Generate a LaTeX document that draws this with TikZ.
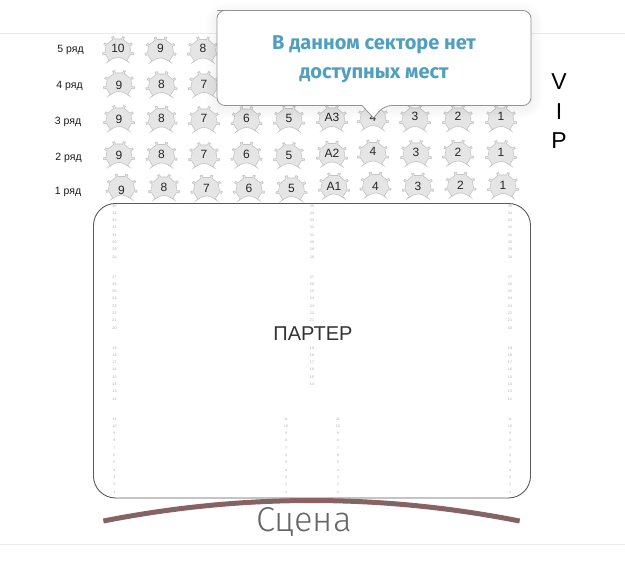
\documentclass[tikz,border=0pt]{standalone}
\usepackage{fontspec}
\setmainfont{Liberation Sans}
\newfontfamily\fira{Fira Sans}
\newfontfamily\firalight{Fira Sans Light}
\definecolor{tipblue}{HTML}{4F9FC0}
\definecolor{tinynum}{HTML}{AAAAAA}
\definecolor{stagecore}{HTML}{7F6666}
\definecolor{stageedge}{HTML}{A85C5C}
\tikzset{
  seatbody/.style={fill=black!10,draw=black!23,line width=0.6pt,line join=miter},
  seatlabel/.style={font=\fontsize{12}{12}\selectfont,text=black!85,inner sep=0pt},
  rowlabel/.style={font=\fontsize{10.5}{11}\selectfont,text=black!90,inner sep=0pt},
  tinylabel/.style={font=\fontsize{3.6}{4}\selectfont,text=tinynum,inner sep=0pt},
  tipline/.style={font=\fira\bfseries\fontsize{20}{22}\selectfont,text=tipblue,inner sep=0pt},
  guideline/.style={draw=black!8,line width=0.8pt},
}
\newcommand{\seatat}[5]{% x, top y, label, name, label y
  \begin{scope}[shift={(#1,#2+15)},x=1.05pt,y=1pt]
    \draw[seatbody]
      (-48:15) .. controls (6,-8) and (3,-6.5) .. (0,-6.5) .. controls (-3,-6.5) and (-6,-8) .. (228:15)
      -- (228:12.5) -- (195:12.5) -- (195:15) -- (187:15) -- (187:12.5) -- (155:12.5) -- (155:15)
      -- (147:15) -- (147:12.5) -- (114:12.5) -- (114:15) -- (106:15) -- (106:12.5) -- (74:12.5) -- (74:15)
      -- (66:15) -- (66:12.5) -- (33:12.5) -- (33:15) -- (25:15) -- (25:12.5) -- (-7:12.5) -- (-7:15)
      -- (-15:15) -- (-15:12.5) -- (-48:12.5) -- cycle;
  \end{scope}
  \node[seatlabel] (#4) at (#1,#5) {#3};}
\begin{document}
\begin{tikzpicture}[x=1pt,y=-1pt]
\useasboundingbox (0,0) rectangle (625,569);
\fill[white] (0,0) rectangle (625,569);
\draw[guideline] (0,33) -- (625,33);
\draw[guideline] (0,544.5) -- (625,544.5);

% row labels
\node[rowlabel] (r5) at (70.5,50) {5 ряд};
\node[rowlabel] (r4) at (69.5,85.5) {4 ряд};
\node[rowlabel] (r3) at (68,121.5) {3 ряд};
\node[rowlabel] (r2) at (68.5,158) {2 ряд};
\node[rowlabel] (r1) at (68,191.5) {1 ряд};

% row 5
\seatat{118}{36}{10}{s5a}{48.7}
\seatat{160.5}{36.5}{9}{s5b}{48.7}
\seatat{203}{36.5}{8}{s5c}{48}
% row 4
\seatat{119}{70}{9}{s4a}{85.7}
\seatat{161.5}{71}{8}{s4b}{84}
\seatat{204}{71}{7}{s4c}{84}
% row 3
\seatat{119}{105}{9}{s3a}{119.3}
\seatat{161.5}{105.5}{8}{s3b}{118.7}
\seatat{204}{106}{7}{s3c}{118}
\seatat{246.5}{106}{6}{s3d}{118.7}
\seatat{289}{105.5}{5}{s3e}{118}
\seatat{332}{105}{A3}{s3f}{117.3}
\seatat{373}{104}{4}{s3g}{117}
\seatat{415}{105}{3}{s3h}{116.7}
\seatat{458}{105}{2}{s3i}{116}
\seatat{501}{105}{1}{s3j}{116}
% row 2
\seatat{119}{141}{9}{s2a}{155.7}
\seatat{161.5}{141.5}{8}{s2b}{154}
\seatat{204}{142}{7}{s2c}{154.7}
\seatat{246.5}{141.5}{6}{s2d}{154}
\seatat{289}{142}{5}{s2e}{155.7}
\seatat{332}{140.5}{A2}{s2f}{153.3}
\seatat{373}{139.5}{4}{s2g}{151.7}
\seatat{416}{140}{3}{s2h}{152.7}
\seatat{458}{139.5}{2}{s2i}{152}
\seatat{501}{140}{1}{s2j}{152}
% row 1
\seatat{121.5}{173.5}{9}{s1a}{190}
\seatat{164}{174}{8}{s1b}{187.7}
\seatat{206.5}{174.5}{7}{s1c}{188.3}
\seatat{249}{174.5}{6}{s1d}{188}
\seatat{291.5}{175}{5}{s1e}{188}
\seatat{334}{172.5}{A1}{s1f}{186.7}
\seatat{375.5}{171.5}{4}{s1g}{186}
\seatat{418}{172.5}{3}{s1h}{186}
\seatat{460.5}{171.5}{2}{s1i}{185}
\seatat{503}{172}{1}{s1j}{185.3}

% VIP
\node[font=\fontsize{23}{23}\selectfont,inner sep=0pt] (v) at (559,82) {V};
\node[font=\fontsize{23}{23}\selectfont,inner sep=0pt] (i) at (559,112) {I};
\node[font=\fontsize{23}{23}\selectfont,inner sep=0pt] (p) at (559,141) {P};

% parterre
\draw[draw=black!65,line width=0.9pt,rounded corners=22pt] (93.5,203.5) rectangle (530.5,498);
\node[font=\fontsize{20}{20}\selectfont,text=black!80,inner sep=0pt] (parter) at (313,333.5) {ПАРТЕР};

% tiny seat numbers
\foreach \cx in {114.5,312,510}{
  \foreach \n/\yy in {35/206,34/213.3,33/220,32/227.3,31/235,30/242.3,29/249.3,28/257.3,
                      27/277.3,26/284.7,25/291.7,24/298.7,23/306,22/313.3,21/320.7}
    \node[tinylabel] at (\cx,\yy) {\n};
}
\foreach \cx in {114.5,510}{
  \foreach \n/\yy in {20/328.7,19/348.3,18/355.7,17/362.7,16/369.3,15/377.3,14/384.7,13/391.3,12/399.3}
    \node[tinylabel] at (\cx,\yy) {\n};
}
\foreach \n/\yy in {19/348.3,18/355.7,17/362.7,16/369.3,15/377.3,14/384.7}
  \node[tinylabel] at (312,\yy) {\n};
\foreach \cx in {114.5,286,338,510}{
  \foreach \n/\yy in {11/419.3,10/426,9/433.3,8/440.7,7/448.3,6/455.3,5/462.7,4/470.7,3/477.3,2/484.7,1/492}
    \node[tinylabel] at (\cx,\yy) {\n};
}

% stage
\coordinate (stL) at (103.5,521);
\coordinate (stR) at (519.5,521);
\coordinate (stA) at (242,493.7);
\coordinate (stB) at (381,493.7);
\draw[draw=stageedge,line width=5pt] (stL) .. controls (stA) and (stB) .. (stR);
\draw[draw=stagecore,line width=3.8pt] (stL) .. controls (stA) and (stB) .. (stR);
\node[font=\firalight\fontsize{34.5}{34}\selectfont,text=black!60,inner sep=0pt] (stage) at (304,521.5) {Сцена};

% tooltip shadow
\foreach \w in {2,4,...,24}
  \draw[draw=black,opacity=0.005,line width=\w pt,rounded corners=8pt,line join=round] (217,14) rectangle (531,107);
% tooltip
\draw[draw=black!42,fill=white,line width=0.8pt,rounded corners=8pt]
  (225,10.5) -- (531,10.5) -- (531,105.5) -- (384,105.5) [sharp corners] -- (373.5,118) -- (362,105.5) [rounded corners=8pt] -- (217,105.5) -- (217,10.5) -- cycle;
\node[tipline] (t1) at (374,45) {В данном секторе нет};
\node[tipline] (t2) at (374,75) {доступных мест};
\end{tikzpicture}
\end{document}
